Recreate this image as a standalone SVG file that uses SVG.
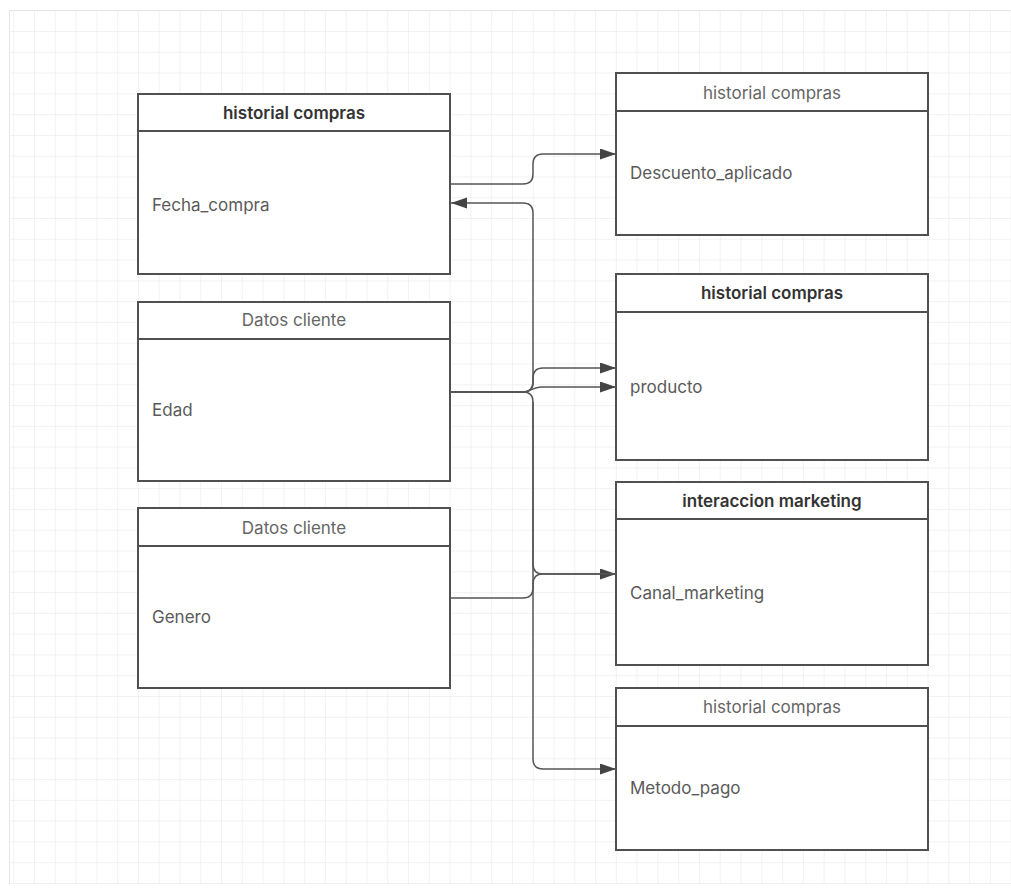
<svg xmlns="http://www.w3.org/2000/svg" width="1011" height="894" viewBox="0 0 1011 894">
<defs>
<pattern id="grid" x="14.22" y="11.22" width="20.78" height="20.78" patternUnits="userSpaceOnUse">
<path d="M20.78,0 V20.78 M0,20.78 H20.78" fill="none" stroke="#e6e6e6" stroke-width="1"/>
</pattern>
<marker id="arr" markerUnits="userSpaceOnUse" markerWidth="17" markerHeight="12" refX="16" refY="5.5" orient="auto">
<path d="M0,0 L16,5.5 L0,11 z" fill="#444"/>
</marker>
<style>
.box{fill:#fff;stroke:#505050;stroke-width:2}
.div{stroke:#505050;stroke-width:2}
.hb{font-family:Inter,"Liberation Sans",sans-serif;font-size:17px;font-weight:600;fill:#333;text-anchor:middle}
.hr{font-family:Inter,"Liberation Sans",sans-serif;font-size:17px;font-weight:400;fill:#666;text-anchor:middle}
.bt{font-family:Inter,"Liberation Sans",sans-serif;font-size:17px;fill:#5a5a5a}
.c{fill:none;stroke:#555;stroke-width:1.5}
</style>
</defs>
<rect width="1011" height="894" fill="#fff"/>
<rect x="9" y="10" width="1002" height="874" fill="url(#grid)"/>
<path d="M9.5,10 V884 M9,10.5 H1011" stroke="#e6e6e6" stroke-width="1"/>

<g id="connectors">
<path class="c" d="M450,184 H523 Q533,184 533,174 V164 Q533,154 543,154 H616" marker-end="url(#arr)"/>
<path class="c" d="M450,392 H523 Q533,392 533,382 V213 Q533,203 523,203 H451" marker-end="url(#arr)"/>
<path class="c" d="M450,392 H523 Q533,392 533,382 V378 Q533,368 543,368 H616" marker-end="url(#arr)"/>
<path class="c" d="M450,392 H523 C530,392 533,387 541,387 H616" marker-end="url(#arr)"/>
<path class="c" d="M450,392 H523 Q533,392 533,402 V564 Q533,574 543,574 H616" marker-end="url(#arr)"/>
<path class="c" d="M450,598 H523 Q533,598 533,588 V584 Q533,574 543,574 H616"/>
<path class="c" d="M533,402 V759 Q533,769 543,769 H616" marker-end="url(#arr)"/>
</g>

<g id="node-fecha">
<rect class="box" x="138" y="94" width="312" height="180"/>
<line class="div" x1="138" y1="131" x2="450" y2="131"/>
<text class="hb" x="294" y="119">historial compras</text>
<text class="bt" x="152" y="211">Fecha_compra</text>
</g>
<g id="node-edad">
<rect class="box" x="138" y="302" width="312" height="179"/>
<line class="div" x1="138" y1="339" x2="450" y2="339"/>
<text class="hr" x="294" y="326">Datos cliente</text>
<text class="bt" x="152" y="416">Edad</text>
</g>
<g id="node-genero">
<rect class="box" x="138" y="508" width="312" height="180"/>
<line class="div" x1="138" y1="546" x2="450" y2="546"/>
<text class="hr" x="294" y="534">Datos cliente</text>
<text class="bt" x="152" y="623">Genero</text>
</g>
<g id="node-descuento">
<rect class="box" x="616" y="73" width="312" height="162"/>
<line class="div" x1="616" y1="111" x2="928" y2="111"/>
<text class="hr" x="772" y="99">historial compras</text>
<text class="bt" x="630" y="179">Descuento_aplicado</text>
</g>
<g id="node-producto">
<rect class="box" x="616" y="274" width="312" height="186"/>
<line class="div" x1="616" y1="312" x2="928" y2="312"/>
<text class="hb" x="772" y="299">historial compras</text>
<text class="bt" x="630" y="393">producto</text>
</g>
<g id="node-canal">
<rect class="box" x="616" y="482" width="312" height="183"/>
<line class="div" x1="616" y1="519" x2="928" y2="519"/>
<text class="hb" x="772" y="507">interaccion marketing</text>
<text class="bt" x="630" y="599">Canal_marketing</text>
</g>
<g id="node-metodo">
<rect class="box" x="616" y="688" width="312" height="162"/>
<line class="div" x1="616" y1="726" x2="928" y2="726"/>
<text class="hr" x="772" y="713">historial compras</text>
<text class="bt" x="630" y="794">Metodo_pago</text>
</g>
</svg>
